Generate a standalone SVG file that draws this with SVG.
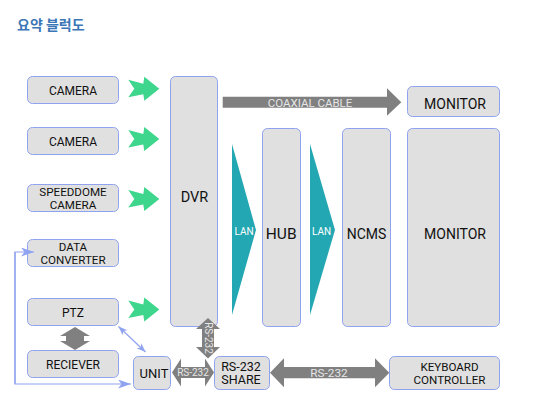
<svg xmlns="http://www.w3.org/2000/svg" width="544" height="410" viewBox="0 0 544 410">
<style>
.box{fill:#e0e0e0;stroke:#8fa3f0;stroke-width:1}
.t{font-family:Roboto,"Liberation Sans",sans-serif;fill:#111;text-anchor:middle}
.s12{font-size:12px}
.s11{font-size:11.6px}
.wt{font-family:Roboto,"Liberation Sans",sans-serif;fill:#e6e6e6;text-anchor:middle}
.gray{fill:#808080}
.teal{fill:#23a7b2}
.green{fill:#3dd68c}
.blue{fill:none;stroke:#8fa3f0;stroke-width:1.2}
</style>
<defs>
<path id="garrow" d="M0,3 L15,7 L16,0 L31,12 L16,24 L15,17.5 L0,20.5 L6,12 Z"/>
<marker id="bh" markerUnits="userSpaceOnUse" markerWidth="14" markerHeight="10" refX="13" refY="4.5" orient="auto">
<path d="M0,0 L13,4.5 L0,9 L3.5,4.5 Z" fill="#8fa3f0"/>
</marker>
<marker id="bs" markerUnits="userSpaceOnUse" markerWidth="10" markerHeight="8" refX="9" refY="3.5" orient="auto-start-reverse">
<path d="M0,0 L9,3.5 L0,7 L2.5,3.5 Z" fill="#8fa3f0"/>
</marker>
</defs>
<rect width="544" height="410" fill="#ffffff"/>
<text x="17" y="30" font-family="'Noto Sans CJK KR',sans-serif" font-size="14" font-weight="bold" fill="#3b76b6">요약 블럭도</text>

<g id="camera1"><rect class="box" x="27.5" y="76.5" width="91" height="27" rx="5"/><text class="t s12" x="73" y="95">CAMERA</text></g>
<g id="camera2"><rect class="box" x="27.5" y="127.5" width="91" height="27" rx="5"/><text class="t s12" x="73" y="146">CAMERA</text></g>
<g id="speeddome"><rect class="box" x="27.5" y="184.5" width="91" height="27" rx="5"/><text class="t s11" x="73" y="196.3">SPEEDDOME</text><text class="t s11" x="73" y="208.6">CAMERA</text></g>
<g id="dataconverter"><rect class="box" x="27.5" y="239.5" width="91" height="27" rx="5"/><text class="t s11" x="73" y="250.7">DATA</text><text class="t s11" x="73" y="263.7">CONVERTER</text></g>
<g id="ptz"><rect class="box" x="27.5" y="298.5" width="91" height="27" rx="5"/><text class="t s12" x="73" y="316.5">PTZ</text></g>
<g id="reciever"><rect class="box" x="27.5" y="350.5" width="91" height="27" rx="5"/><text class="t s12" x="73" y="369">RECIEVER</text></g>
<g id="unit"><rect class="box" x="133.5" y="356.5" width="37" height="33" rx="5"/><text class="t" font-size="13" x="154" y="377.5">UNIT</text></g>
<g id="dvr"><rect class="box" x="170.5" y="76.5" width="47" height="250" rx="5"/><text class="t" font-size="14.5" x="194.5" y="202">DVR</text></g>
<g id="rs232share"><rect class="box" x="214.5" y="356.5" width="55" height="33" rx="5"/><text class="t" font-size="12.5" x="241" y="370.8">RS-232</text><text class="t" font-size="12.5" x="241" y="383.5">SHARE</text></g>
<g id="hub"><rect class="box" x="262.5" y="128.5" width="38" height="198" rx="5"/><text class="t" font-size="15.5" x="281.2" y="239">HUB</text></g>
<g id="ncms"><rect class="box" x="342.5" y="128.5" width="48" height="198" rx="5"/><text class="t" font-size="14" x="366.5" y="239">NCMS</text></g>
<g id="monitor1"><rect class="box" x="407.5" y="86.5" width="92" height="30" rx="5"/><text class="t" font-size="14" x="455" y="109">MONITOR</text></g>
<g id="monitor2"><rect class="box" x="407.5" y="128.5" width="92" height="198" rx="5"/><text class="t" font-size="14" x="455" y="239">MONITOR</text></g>
<g id="keyboard"><rect class="box" x="389.5" y="356.5" width="110" height="33" rx="5"/><text class="t s11" x="449.5" y="371.4">KEYBOARD</text><text class="t s11" x="449.5" y="383.6">CONTROLLER</text></g>

<g id="connectors">
<use href="#garrow" class="green" x="128.3" y="76.7"/>
<use href="#garrow" class="green" x="128.3" y="127"/>
<use href="#garrow" class="green" x="128.3" y="187"/>
<use href="#garrow" class="green" x="128.3" y="297.5"/>
<polygon class="gray" points="222.7,96.7 387,96.7 387,88.3 401.3,102.2 387,115.7 387,107.7 222.7,107.7"/>
<text class="wt" font-size="11.5" x="310" y="106.5">COAXIAL CABLE</text>
<polygon class="teal" points="232,144 256,230 232,315"/>
<text x="244" y="234.5" font-family="Roboto,'Liberation Sans',sans-serif" font-size="10" fill="#ffffff" text-anchor="middle">LAN</text>
<polygon class="teal" points="310,144 335,230 310,315"/>
<text x="321.5" y="234.5" font-family="Roboto,'Liberation Sans',sans-serif" font-size="10" fill="#ffffff" text-anchor="middle">LAN</text>
<polygon class="gray" points="208,318 220,329 214,329 214,347 220,347 208,358.5 196,347 202,347 202,329 196,329"/>
<text class="wt" font-size="10" transform="translate(205,338) rotate(90)">RS-232</text>
<polygon class="gray" points="172,372.5 181,358.5 181,367 205,367 205,358.5 214,372.5 205,386.5 205,378 181,378 181,386.5"/>
<text class="wt" font-size="10" x="193" y="376">RS-232</text>
<polygon class="gray" points="270,372.7 284,358.3 284,367 375,367 375,358.3 389.3,372.7 375,387.3 375,378.3 284,378.3 284,387.3"/>
<text class="wt" font-size="11.8" x="329" y="376.7">RS-232</text>
<polygon class="gray" points="75,327 90,336 84,336 84,341 90,341 75,350 60,341 66,341 66,336 60,336"/>
<line class="blue" x1="118.5" y1="326.5" x2="145.5" y2="352" marker-start="url(#bs)" marker-end="url(#bs)"/>
<polyline class="blue" points="15,384 15,252 34,252" marker-end="url(#bh)"/>
<polyline class="blue" points="15,252 15,384 131,384" marker-end="url(#bh)"/>
</g>
</svg>
